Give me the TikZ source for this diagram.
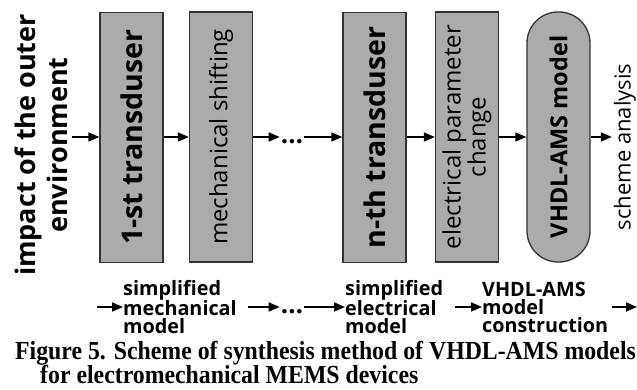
\documentclass[tikz,border=0pt]{standalone}
\usepackage{fontspec}
\setmainfont{Liberation Serif}
\newfontfamily\diagfont{Open Sans}
\usetikzlibrary{arrows.meta}
\tikzset{
  block/.style={draw=black!80, line width=1.3pt, fill=black!33, rotate=90,
    minimum width=250pt, minimum height=63pt, inner sep=1pt, align=center,
    font=\diagfont\fontsize{24}{25}\selectfont},
  arr/.style={-{Triangle[length=11pt,width=9pt]}, line width=1.6pt},
  stage/.style={anchor=west, align=left, inner sep=0pt,
    font=\diagfont\bfseries\fontsize{19.8}{18}\selectfont},
  dots/.style={inner sep=1pt, font=\diagfont\bfseries\fontsize{26}{26}\selectfont},
  caption/.style={anchor=base west, inner sep=0pt, font=\bfseries\fontsize{26}{24}\selectfont},
}
\begin{document}
\begin{tikzpicture}[x=1pt,y=-1pt]
\useasboundingbox (0,0) rectangle (637,390);
% upper chain
\node[rotate=90, align=center, inner sep=0pt, font=\diagfont\bfseries\fontsize{27}{32}\selectfont] (env) at (41,145) {impact of the outer\\environment};
\coordinate (in) at (72,137);
\node[block, font=\diagfont\bfseries\fontsize{28.5}{30}\selectfont] (b1) at (131.5,137.5) {1-st transduser};
\node[block] (b2) at (221,137) {mechanical shifting};
\node[dots] (d1) at (292,142) {\ldots};
\node[block, font=\diagfont\bfseries\fontsize{28.5}{30}\selectfont] (b3) at (374.5,137.5) {n-th transduser};
\node[block] (b4) at (467,137) {electrical parameter\\change};
\node[block, rounded corners=31pt, font=\diagfont\bfseries\fontsize{23.5}{25}\selectfont] (b5) at (558.5,137) {VHDL-AMS model};
\node[rotate=90, inner sep=0pt, font=\diagfont\fontsize{22}{24}\selectfont] (out) at (625,147) {scheme analysis};
%
\draw[arr] (in) -- (b1.north |- in);
\draw[arr] (b1.south |- in) -- (b2.north |- in);
\draw[arr] (b2.south |- in) -- (d1.west |- in);
\draw[arr] (d1.east |- in) -- (b3.north |- in);
\draw[arr] (b3.south |- in) -- (b4.north |- in);
\draw[arr] (b4.south |- in) -- (b5.north |- in);
\draw[arr] (b5.south |- in) -- ([xshift=-2pt]out.north |- in);
% lower chain
\coordinate (lin) at (97,307);
\node[stage] (s1) at (123,307) {simplified\\mechanical\\model};
\node[dots] (d2) at (292,312) {\ldots};
\node[stage] (s2) at (345,307) {simplified\\electrical\\model};
\node[stage] (s3) at (482,307) {VHDL-AMS\\model\\construction};
\coordinate (lout) at (637,307);
%
\draw[arr] (lin) -- (s1.west |- lin);
\draw[arr] (248,307) -- (d2.west |- lin);
\draw[arr] (d2.east |- lin) -- (s2.west |- lin);
\draw[arr] (455,307) -- (s3.west |- lin);
\draw[arr] (612,307) -- (lout);
% caption
\node[caption] (cap1) at (15,359) {\scalebox{0.915}[1]{Figure 5. Scheme of synthesis method of VHDL-AMS models}};
\node[caption] (cap2) at (40,383) {\scalebox{0.915}[1]{for electromechanical MEMS devices}};
\end{tikzpicture}
\end{document}
